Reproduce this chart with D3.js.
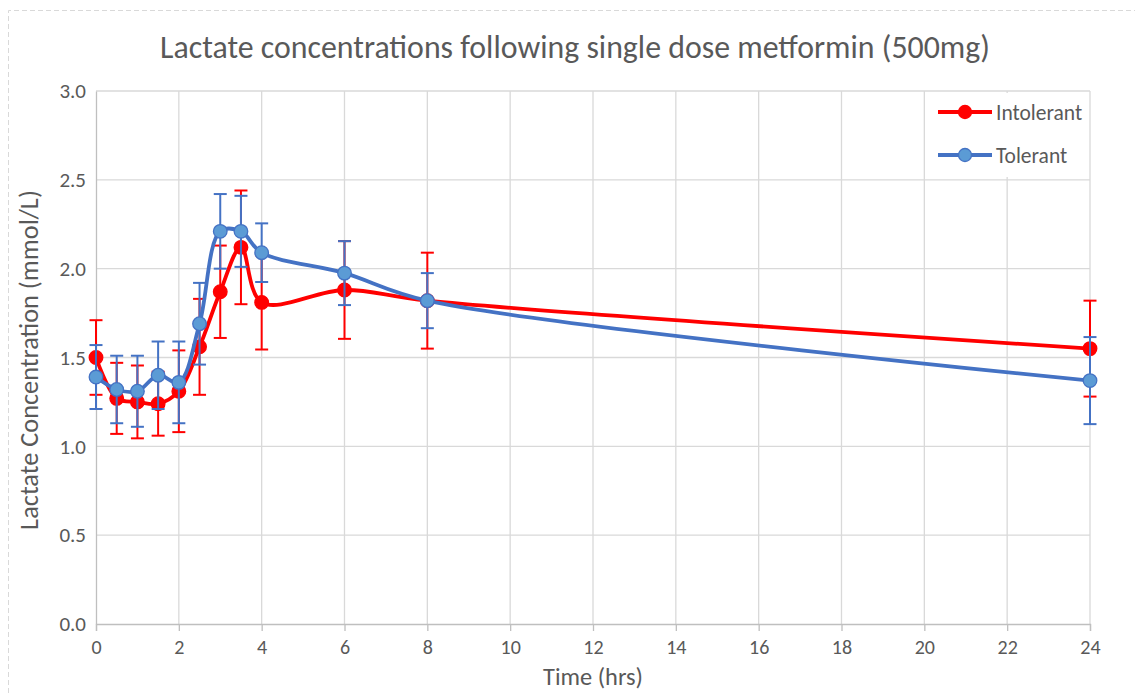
<!DOCTYPE html>
<html><head><meta charset="utf-8">
<script src="https://cdn.jsdelivr.net/npm/d3@7"></script>
<style>body{margin:0;background:#fff;} svg{display:block;}</style>
</head><body>
<svg id="chart" width="1135" height="693"></svg>
<script>
const times = [0, 0.5, 1, 1.5, 2, 2.5, 3, 3.5, 4, 6, 8, 24];
const intolerant = [1.50, 1.27, 1.25, 1.24, 1.31, 1.56, 1.87, 2.12, 1.81, 1.88, 1.82, 1.55];
const intolerantErr = [0.21, 0.20, 0.205, 0.18, 0.23, 0.27, 0.26, 0.32, 0.265, 0.275, 0.27, 0.27];
const tolerant = [1.39, 1.32, 1.31, 1.40, 1.36, 1.69, 2.21, 2.21, 2.09, 1.975, 1.82, 1.37];
const tolerantErr = [0.18, 0.19, 0.20, 0.19, 0.23, 0.23, 0.21, 0.20, 0.165, 0.18, 0.155, 0.245];
const xTicks = [0, 2, 4, 6, 8, 10, 12, 14, 16, 18, 20, 22, 24];
const yTicks = [0, 0.5, 1.0, 1.5, 2.0, 2.5, 3.0];
const seriesNames = ["Intolerant", "Tolerant"];
const titleText = "Lactate concentrations following single dose metformin (500mg)";
const xTitle = "Time (hrs)";
const yTitle = "Lactate Concentration (mmol/L)";

const svg = d3.select("#chart");
const font = "Calibri, Carlito, Lato, 'Open Sans', sans-serif";
const x = d3.scaleLinear().domain([0, 24]).range([96, 1090]);
const y = d3.scaleLinear().domain([0, 3]).range([624, 91]);

function fit(sel, base, target) {
  const w = sel.node().getComputedTextLength();
  sel.attr("font-size", base * target / w);
}

// dashed outer border
svg.append("path").attr("d", "M8.5,693 L8.5,10.5 L1135,10.5")
  .attr("fill", "none").attr("stroke", "#d9d9d9").attr("stroke-dasharray", "5,3");

// gridlines
svg.append("g").selectAll("line").data(yTicks.filter(d => d > 0)).join("line")
  .attr("x1", x(0)).attr("x2", x(24)).attr("y1", d => y(d)).attr("y2", d => y(d))
  .attr("stroke", "#d9d9d9").attr("stroke-width", 1.3);
svg.append("g").selectAll("line").data(xTicks.filter(d => d > 0)).join("line")
  .attr("x1", d => x(d)).attr("x2", d => x(d)).attr("y1", y(0)).attr("y2", y(3))
  .attr("stroke", "#d9d9d9").attr("stroke-width", 1.3);

// axes
const xAxis = d3.axisBottom(x).tickValues(xTicks).tickSize(7).tickPadding(9).tickFormat(d3.format("d"));
const gx = svg.append("g").attr("transform", `translate(0,${y(0)})`).call(xAxis);
gx.select(".domain").attr("stroke", "#bfbfbf").attr("stroke-width", 1.3);
gx.selectAll(".tick line").attr("stroke", "#bfbfbf").attr("stroke-width", 1.3);
gx.selectAll("text").attr("font-family", font).attr("font-size", 20).attr("fill", "#595959");

const yAxis = d3.axisLeft(y).tickValues(yTicks).tickSize(0).tickPadding(10).tickFormat(d3.format(".1f"));
const gy = svg.append("g").attr("transform", `translate(${x(0)},0)`).call(yAxis);
gy.select(".domain").attr("stroke", "#bfbfbf").attr("stroke-width", 1.3);
gy.selectAll("text").attr("font-family", font).attr("font-size", 21).attr("fill", "#595959");

// series
const series = [
  {name: seriesNames[0], vals: intolerant, err: intolerantErr, line: "#FF0000", fill: "#FF0000", mstroke: "#FF0000"},
  {name: seriesNames[1], vals: tolerant, err: tolerantErr, line: "#4472C4", fill: "#5B9BD5", mstroke: "#4472C4"}
];
const lineGen = d3.line().x(d => x(d.t)).y(d => y(d.v)).curve(d3.curveCatmullRom.alpha(0.5));
series.forEach(s => {
  const pts = times.map((t, i) => ({t, v: s.vals[i], e: s.err[i]}));
  const g = svg.append("g");
  const eb = g.append("g").attr("stroke", s.line).attr("stroke-width", 2);
  eb.selectAll("line.v").data(pts).join("line").attr("class", "v")
    .attr("x1", d => x(d.t)).attr("x2", d => x(d.t)).attr("y1", d => y(d.v - d.e)).attr("y2", d => y(d.v + d.e));
  eb.selectAll("line.t").data(pts).join("line").attr("class", "t")
    .attr("x1", d => x(d.t) - 6.5).attr("x2", d => x(d.t) + 6.5).attr("y1", d => y(d.v + d.e)).attr("y2", d => y(d.v + d.e));
  eb.selectAll("line.b").data(pts).join("line").attr("class", "b")
    .attr("x1", d => x(d.t) - 6.5).attr("x2", d => x(d.t) + 6.5).attr("y1", d => y(d.v - d.e)).attr("y2", d => y(d.v - d.e));
  g.append("path").datum(pts).attr("d", lineGen).attr("fill", "none")
    .attr("stroke", s.line).attr("stroke-width", 3.8).attr("stroke-linejoin", "round");
  g.selectAll("circle").data(pts).join("circle")
    .attr("cx", d => x(d.t)).attr("cy", d => y(d.v)).attr("r", 6.8)
    .attr("fill", s.fill).attr("stroke", s.mstroke).attr("stroke-width", 1.3);
});

// legend
svg.append("rect").attr("x", 927).attr("y", 93).attr("width", 161).attr("height", 84).attr("fill", "#fff");
series.forEach((s, i) => {
  const ly = 112 + i * 43;
  svg.append("line").attr("x1", 938).attr("x2", 992).attr("y1", ly).attr("y2", ly)
    .attr("stroke", s.line).attr("stroke-width", 3.8);
  svg.append("circle").attr("cx", 965).attr("cy", ly).attr("r", 6.5)
    .attr("fill", s.fill).attr("stroke", s.mstroke).attr("stroke-width", 1.3);
  svg.append("text").attr("x", 996).attr("y", ly).attr("dy", "0.35em")
    .attr("font-family", font).attr("font-size", 21.5).attr("fill", "#595959").text(s.name);
});

// titles
const title = svg.append("text").attr("x", 575).attr("y", 58).attr("text-anchor", "middle")
  .attr("font-family", font).attr("font-size", 26).attr("font-weight", 300).attr("fill", "#595959").text(titleText);
fit(title, 26, 830);

const xt = svg.append("text").attr("x", 593).attr("y", 685).attr("text-anchor", "middle")
  .attr("font-family", font).attr("font-size", 22).attr("fill", "#595959").text(xTitle);
fit(xt, 22, 100);
const yt = svg.append("text").attr("transform", "translate(38,360) rotate(-90)").attr("text-anchor", "middle")
  .attr("font-family", font).attr("font-size", 20).attr("fill", "#595959").text(yTitle);
fit(yt, 20, 340);
</script>
</body></html>
